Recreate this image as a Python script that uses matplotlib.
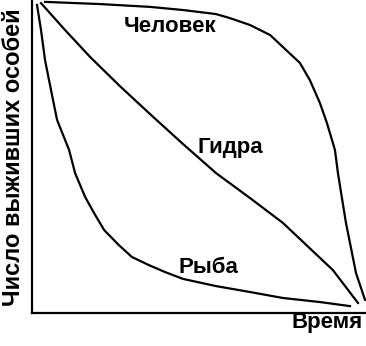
import matplotlib
matplotlib.use("Agg")
import matplotlib.pyplot as plt

# Survivorship curves, time and survivors both as fractions 0..1
human_t = [0.039, 0.204, 0.353, 0.452, 0.551, 0.593, 0.653, 0.713, 0.751, 0.802,
           0.832, 0.862, 0.883, 0.907, 0.916, 0.928, 0.940, 0.955, 0.970, 0.997]
human_n = [0.994, 0.987, 0.978, 0.968, 0.955, 0.942, 0.920, 0.888, 0.850, 0.799,
           0.744, 0.671, 0.607, 0.521, 0.447, 0.367, 0.288, 0.208, 0.128, 0.042]

hydra_t = [0.027, 0.099, 0.174, 0.263, 0.353, 0.452, 0.551, 0.653, 0.751, 0.901, 0.976]
hydra_n = [0.990, 0.904, 0.818, 0.725, 0.636, 0.540, 0.447, 0.367, 0.288, 0.137, 0.032]

fish_t = [0.015, 0.027, 0.039, 0.057, 0.075, 0.093, 0.111, 0.129, 0.159, 0.186,
          0.216, 0.260, 0.299, 0.350, 0.398, 0.452, 0.551, 0.653, 0.751, 0.862, 0.952]
fish_n = [0.984, 0.904, 0.808, 0.712, 0.617, 0.569, 0.521, 0.447, 0.371, 0.319,
          0.265, 0.217, 0.179, 0.153, 0.131, 0.109, 0.086, 0.067, 0.048, 0.035, 0.022]

plt.rcParams["font.family"] = ["Liberation Sans", "DejaVu Sans"]

W, H = 366, 346
fig = plt.figure(figsize=(W / 100, H / 100), dpi=100)
ax = fig.add_axes([32 / W, (H - 313) / H, 334 / W, 313 / H])

for t, n in [(human_t, human_n), (hydra_t, hydra_n), (fish_t, fish_n)]:
    ax.plot(t, n, color="black", linewidth=1.6, clip_on=False,
            solid_joinstyle="round")

ax.set_xlim(0, 1)
ax.set_ylim(0, 1)
ax.set_xticks([])
ax.set_yticks([])
for side in ("top", "right"):
    ax.spines[side].set_visible(False)
for side in ("left", "bottom"):
    ax.spines[side].set_linewidth(1.6)

lab = dict(fontsize=16, fontweight="bold", ha="center", va="baseline")
ax.text(0.413, 0.898, "Человек", **lab)
ax.text(0.593, 0.511, "Гидра", **lab)
ax.text(0.527, 0.128, "Рыба", **lab)

fig.text(327 / W, (H - 328) / H, "Время", **lab)
fig.text(14 / W, (H - 157) / H, "Число выживших особей", fontsize=17,
         fontweight="bold", ha="center", va="center", rotation=90)

fig.savefig("out.png", dpi=100)
